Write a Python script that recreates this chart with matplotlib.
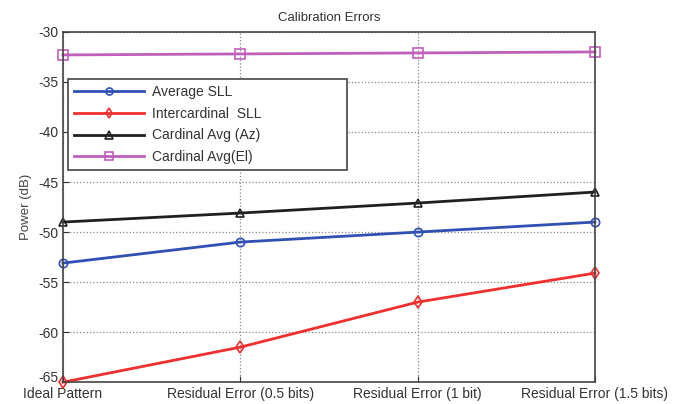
import matplotlib.pyplot as plt
import matplotlib.transforms as mtransforms
import numpy as np

plt.rcParams['font.family'] = ['Liberation Sans', 'DejaVu Sans']
plt.rcParams['axes.unicode_minus'] = False

categories = ['Ideal Pattern', 'Residual Error (0.5 bits)', 'Residual Error (1 bit)', 'Residual Error (1.5 bits)']
average_sll = [-53.1, -51.0, -50.0, -49.0]
intercardinal_sll = [-65.0, -61.5, -57.0, -54.1]
cardinal_az = [-49.0, -48.1, -47.1, -46.0]
cardinal_el = [-32.3, -32.2, -32.1, -32.0]

fig = plt.figure(figsize=(6.86, 4.04), dpi=100)
ax = fig.add_axes([0.0918, 0.054, 0.7755, 0.867])
x = np.arange(len(categories))

ax.plot(x, average_sll, color='#3050b4', lw=2, marker='o', ms=6, mfc='none', mew=1.2, label='Average SLL', clip_on=False)
ax.plot(x, intercardinal_sll, color='#f03030', lw=2, marker='d', ms=6, mfc='none', mew=1.2, label='Intercardinal  SLL', clip_on=False)
ax.plot(x, cardinal_az, color='#202020', lw=2, marker='^', ms=6, mfc='none', mew=1.2, label='Cardinal Avg (Az)', clip_on=False)
ax.plot(x, cardinal_el, color='#c060bc', lw=2, marker='s', ms=7.5, mfc='none', mew=1.2, label='Cardinal Avg(El)', clip_on=False)

ax.set_xlim(0, 3)
ax.set_ylim(-65, -30)
ax.set_xticks(x)
ax.set_xticklabels(categories, fontsize=9.6, color='#333333')
ax.set_yticks(np.arange(-65, -29, 5))
ax.tick_params(axis='both', direction='in', labelsize=10, colors='#333333', length=4)
ax.tick_params(axis='x', pad=3.5)
ax.grid(True, ls=':', color='#888888', lw=0.9)
for s in ax.spines.values():
    s.set_color('#444444')
    s.set_linewidth(1.2)

# lift the bottom y label a little so it clears the first x label
lab = ax.get_yticklabels()[0]
lab.set_transform(lab.get_transform() + mtransforms.ScaledTranslation(0, 4 / 72, fig.dpi_scale_trans))

ax.set_ylabel('Power (dB)', fontsize=9.5, color='#444444', labelpad=4)
ax.set_title('Calibration Errors', fontsize=9.5, color='#333333', pad=8)

# legend box spans x 68..347, y 79..168 in figure pixels
x0 = (68 - 63) / 532
w = (347 - 68) / 532
y1 = (382 - 79) / 350
h = (168 - 79) / 350
leg = ax.legend(loc='upper left', bbox_to_anchor=(x0, y1 - h, w, h), mode='expand', borderaxespad=0,
                fontsize=10, frameon=True, fancybox=False, handlelength=5, handletextpad=0.6,
                borderpad=0.45, labelspacing=0.55, framealpha=1, markerscale=0.85)
leg.get_frame().set_edgecolor('#444444')
leg.get_frame().set_linewidth(1.2)
for t in leg.get_texts():
    t.set_color('#333333')

fig.savefig('out.png', dpi=100)
